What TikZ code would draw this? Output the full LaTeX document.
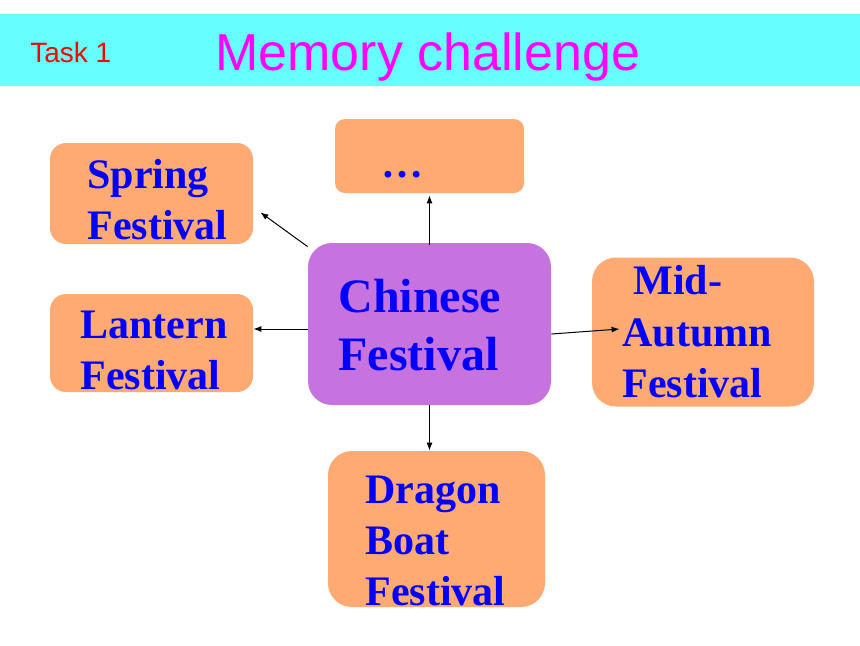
\documentclass[tikz,border=0pt]{standalone}
\usepackage{fontspec}
\setmainfont{Liberation Serif}
\newfontfamily\titlefont{Liberation Sans}
\usetikzlibrary{arrows.meta}
\definecolor{bandCyan}{RGB}{102,255,255}
\definecolor{boxOrange}{RGB}{255,170,115}
\definecolor{boxPurple}{RGB}{198,115,224}
\definecolor{titleMagenta}{RGB}{255,0,255}
\definecolor{taskRed}{RGB}{255,0,0}
\definecolor{textBlue}{RGB}{0,0,255}
\begin{document}
\begin{tikzpicture}
[x=0.5pt,y=-0.5pt,%
  boxDecorate/.style={shape=rectangle,fill=boxOrange,draw=none,inner sep=0pt},%
  textDecorate/.style={anchor=base west,inner sep=0pt,align=left,text=textBlue,
    font=\fontsize{21}{25.5}\selectfont\bfseries},%
  lineDecorate/.style={-{Latex[length=4pt,width=3pt]},line width=0.5pt}]
\useasboundingbox (0,0) rectangle (860,645);
%% title band
\fill[bandCyan] (0,14) rectangle (860,86);
\node (task) at (30,62) [anchor=base west,inner sep=0pt,text=taskRed,
  font=\titlefont\fontsize{14}{16}\selectfont] {Task 1};
\node (title) at (215,70) [anchor=base west,inner sep=0pt,text=titleMagenta,
  font=\titlefont\fontsize{26}{30}\selectfont] {Memory challenge};
%% boxes
\foreach \boxname/\x/\y/\w/\h/\r in {
  spring/151.5/193.5/203/101/8, dots/429.5/156/189/74/5,
  lantern/151.5/343/203/98/8, midautumn/703/332/222/149/12,
  dragon/436.5/529/217/156/12}
{
  \node (\boxname) at (\x,\y) [boxDecorate,rounded corners=\r pt,
    minimum width=\w*0.5pt,minimum height=\h*0.5pt] {};
}
\node (chinese) at (429.5,324) [boxDecorate,fill=boxPurple,rounded corners=12pt,
  minimum width=121.5pt,minimum height=81pt] {};
%% texts (anchored at the baseline of the last line)
\foreach \textname/\x/\y/\words in {
  springText/87/239/{Spring\\Festival}, dotsText/381/177/{\dots},
  lanternText/80/389/{Lantern\\Festival}, dragonText/365/605/{Dragon\\Boat\\Festival},
  autumnText/622/397/{Autumn\\Festival}, midText/633/294/{Mid-}}
{
  \node (\textname) at (\x,\y) [textDecorate] {\words};
}
\node (chineseText) at (338,370) [textDecorate,
  font=\fontsize{24}{29}\selectfont\bfseries] {Chinese\\Festival};
%% arrows
\draw[lineDecorate] ([yshift=-2pt]chinese.north west) -- ([shift={(7,-32)}]spring.south east);
\draw[lineDecorate] ([yshift=-2.5pt]chinese.west) -- ([yshift=-2.5pt]chinese.west -| lantern.east);
\draw[lineDecorate] ([yshift=-1pt]chinese.north) -- ([yshift=-1pt]dots.south);
\draw[lineDecorate] ([yshift=-5pt]chinese.east) -- ([xshift=14pt,yshift=1.5pt]midautumn.west);
\draw[lineDecorate] (chinese.south) -- (chinese.south |- dragon.north);
\end{tikzpicture}
\end{document}
